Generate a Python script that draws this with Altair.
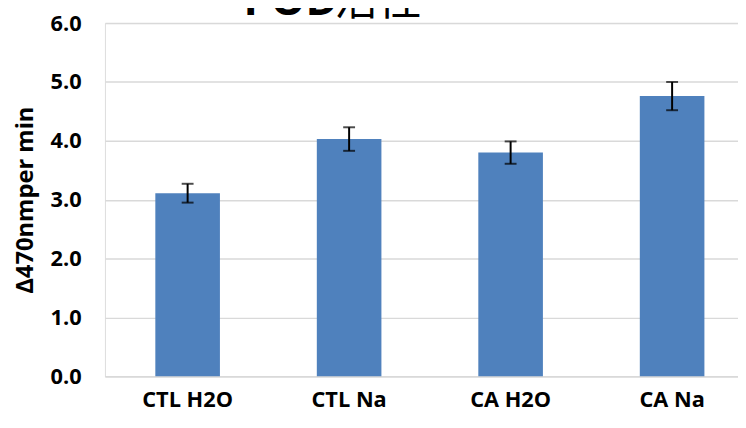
import altair as alt
import pandas as pd

categories = ["CTL H2O", "CTL Na", "CA H2O", "CA Na"]
means = [3.11, 4.03, 3.80, 4.76]
errors = [0.16, 0.20, 0.19, 0.24]
y_ticks = [0, 1, 2, 3, 4, 5, 6]
title_latin = "POD"
title_cjk = "活性"
y_title = "Δ470nmper min"

df = pd.DataFrame({"cat": categories, "mean": means, "err": errors})
df["lo"] = df["mean"] - df["err"]
df["hi"] = df["mean"] + df["err"]

FONT = "Open Sans"
GRID = "#d9d9d9"

xscale = alt.Scale(paddingInner=0.6, paddingOuter=0.26, align=0.6)
xenc = alt.X(
    "cat:N", sort=categories, title=None, scale=xscale,
    axis=alt.Axis(labelAngle=0, labelFont=FONT, labelFontSize=22, labelFontWeight="bold",
                  labelColor="black", labelPadding=14, ticks=False,
                  domainColor=GRID, domainWidth=1.5),
)
yscale = alt.Scale(domain=[0, 6])
yaxis = alt.Axis(
    values=y_ticks, format=".1f", title=y_title,
    labelFont=FONT, labelFontSize=22, labelFontWeight="bold", labelColor="black",
    labelPadding=24, ticks=False, domain=False,
    grid=True, gridColor=GRID, gridWidth=1.5,
    titleFont=FONT, titleFontSize=24, titleFontWeight="bold", titleColor="black",
    titleAngle=270, titleX=-80, titleY=178.5, titleAlign="center", titleBaseline="middle",
)

bars = alt.Chart(df).mark_bar(color="#4F81BD").encode(
    x=xenc, y=alt.Y("mean:Q", scale=yscale, axis=yaxis)
)
rules = alt.Chart(df).mark_rule(color="black", strokeWidth=2).encode(
    x=alt.X("cat:N", sort=categories), y=alt.Y("lo:Q", scale=yscale), y2="hi:Q"
)
caps_hi = alt.Chart(df).mark_tick(color="black", thickness=2, size=12, orient="horizontal").encode(
    x=alt.X("cat:N", sort=categories), y=alt.Y("hi:Q", scale=yscale)
)
caps_lo = alt.Chart(df).mark_tick(color="black", thickness=2, size=12, orient="horizontal").encode(
    x=alt.X("cat:N", sort=categories), y=alt.Y("lo:Q", scale=yscale)
)

t1 = alt.Chart(df).transform_filter("datum.cat == 'CTL H2O'").mark_text(
    text=title_latin, font=FONT, fontSize=44, fontWeight="bold", color="black",
    align="left", baseline="alphabetic"
).encode(x=alt.value(140), y=alt.value(-8))
t2 = alt.Chart(df).transform_filter("datum.cat == 'CTL H2O'").mark_text(
    text=title_cjk, font="Noto Sans CJK SC", fontSize=44, fontWeight="normal", color="black",
    align="left", baseline="alphabetic"
).encode(x=alt.value(232), y=alt.value(-8))

chart = alt.layer(bars, rules, caps_hi, caps_lo, t1, t2).properties(
    width=640, height=357,
    autosize=alt.AutoSizeParams(type="none"),
    padding={"left": 98, "top": 13, "right": 0, "bottom": 45},
).configure_view(stroke=None).configure(background="white")

chart.save("out.html", embed_options={"renderer": "svg", "actions": False})
